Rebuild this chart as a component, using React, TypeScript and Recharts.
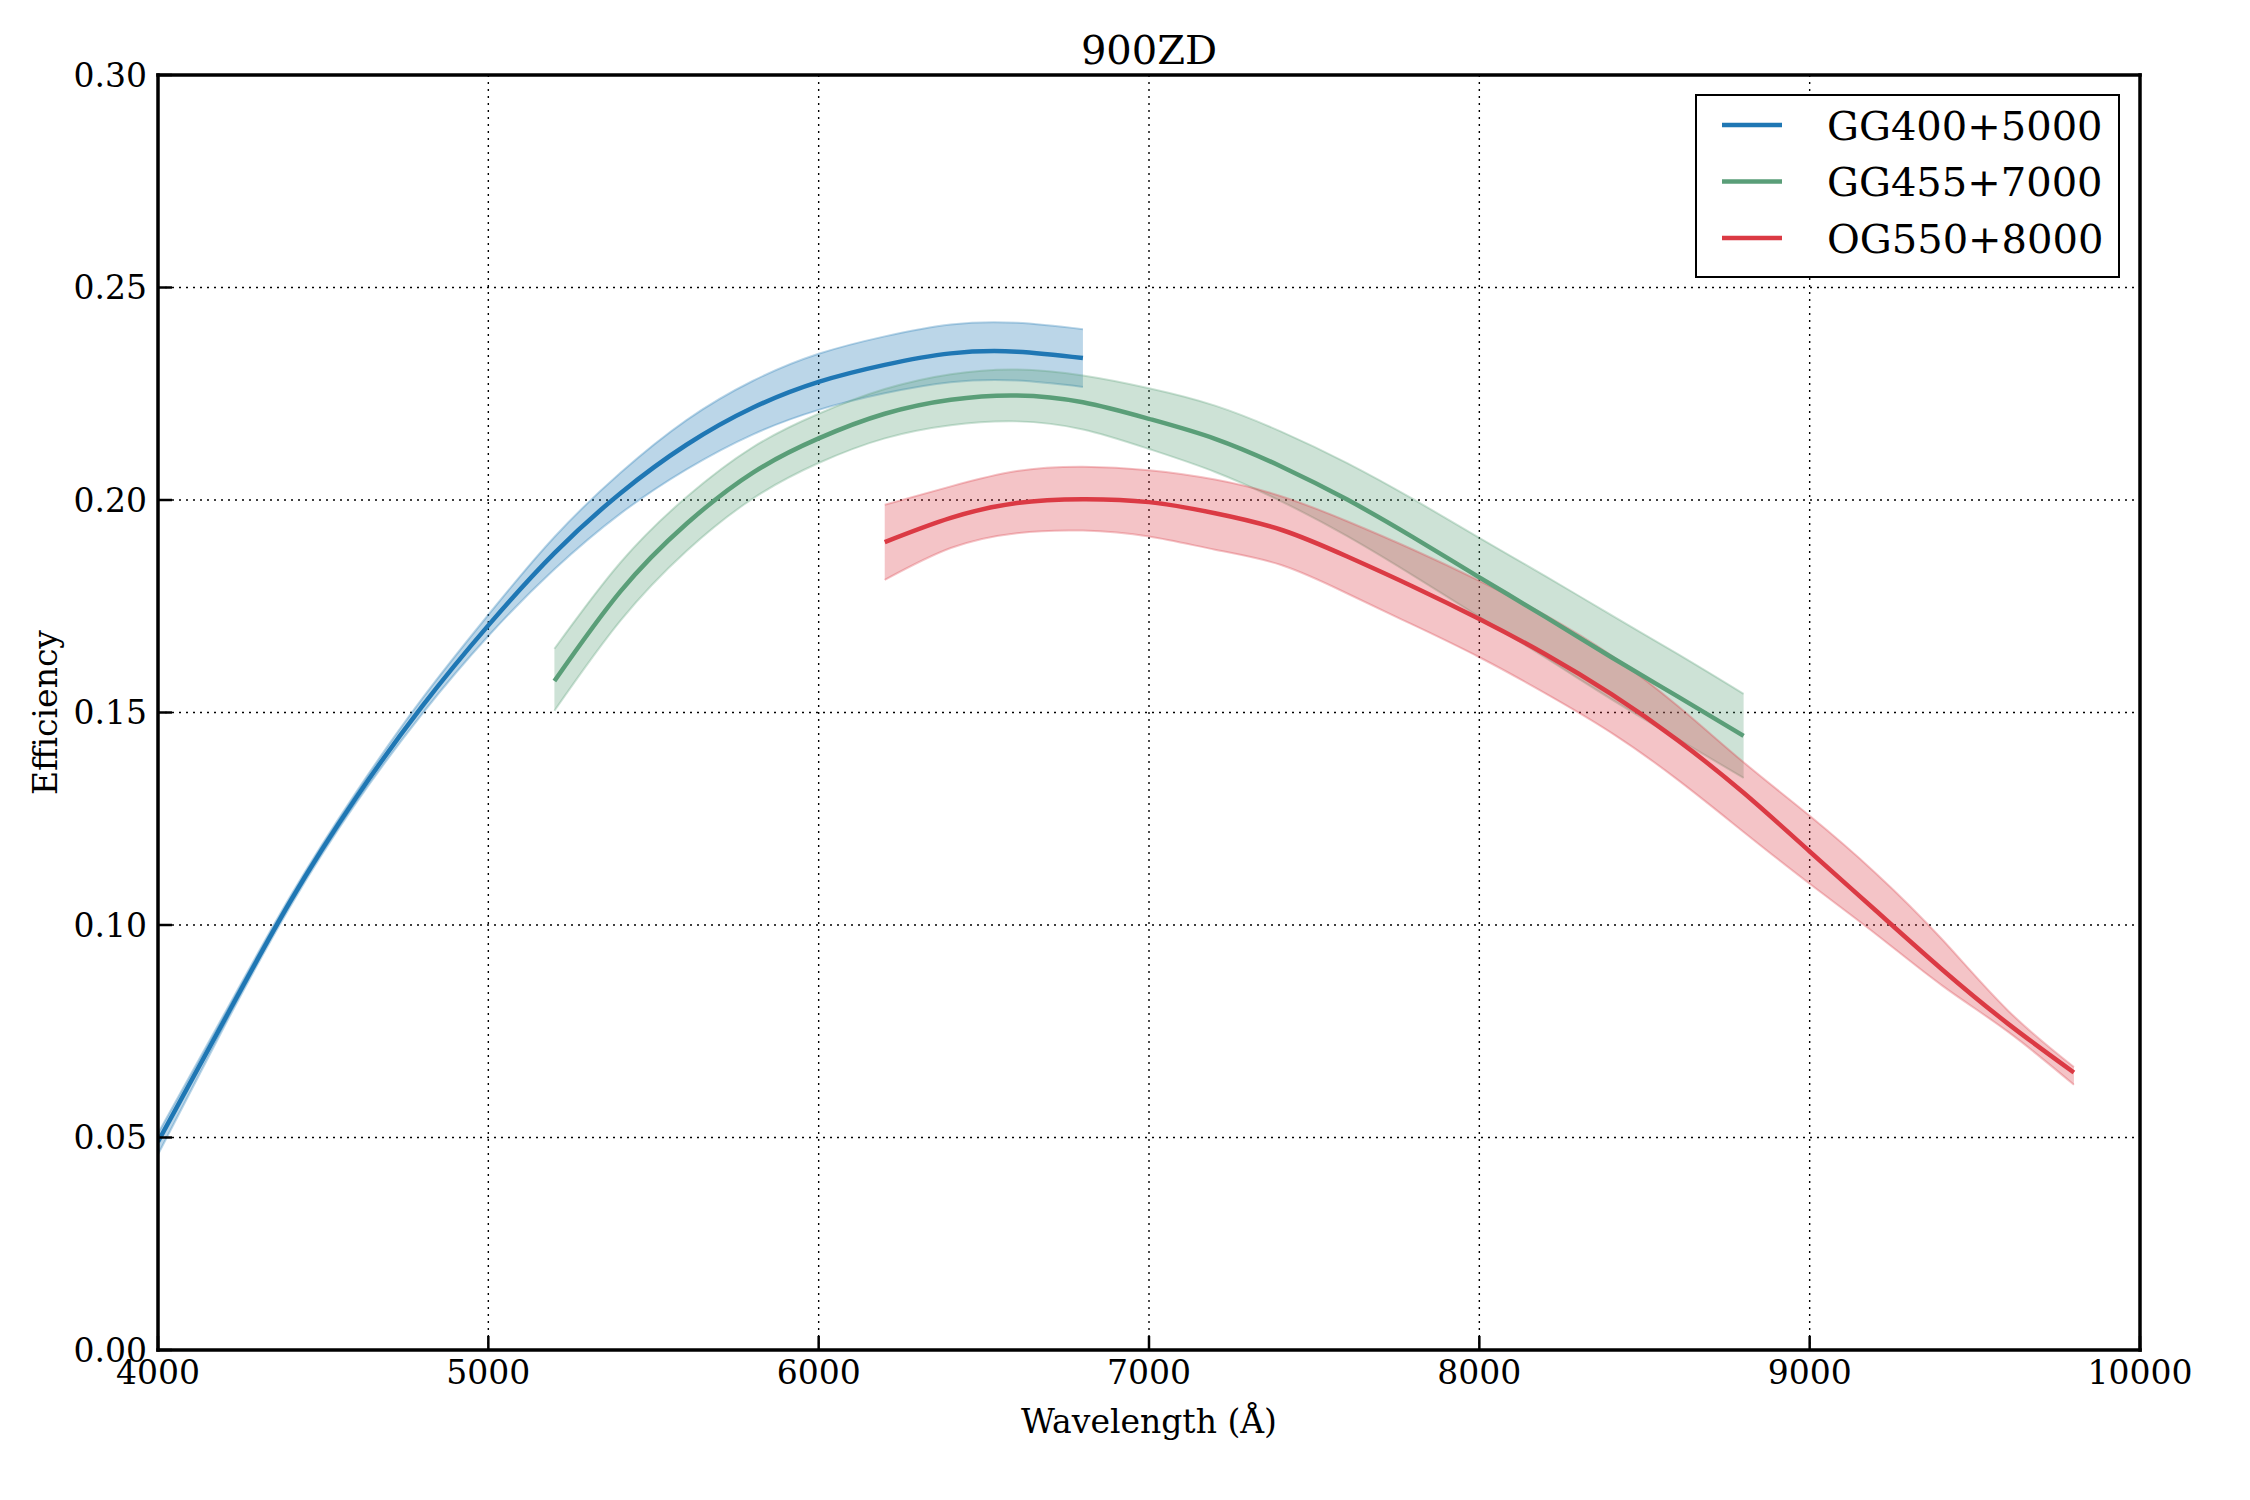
import React from 'react';
import {
  ComposedChart,
  Area,
  Line,
  XAxis,
  YAxis,
  CartesianGrid,
  Legend,
  Label,
} from 'recharts';

// wavelength grids (Angstrom)
const BLUE_WL = [4000, 4200, 4400, 4600, 4800, 5000, 5200, 5400, 5600, 5800, 6000, 6200, 6400, 6600, 6800];
const GREEN_WL = [5200, 5400, 5600, 5800, 6000, 6200, 6400, 6600, 6800, 7000, 7200, 7400, 7600, 7800, 8000, 8200, 8400, 8600, 8800];
const RED_WL = [6200, 6400, 6600, 6800, 7000, 7200, 7400, 7600, 7800, 8000, 8200, 8400, 8600, 8800, 9000, 9200, 9400, 9600, 9800];

// GG400+5000
const BLUE_MID = [0.049, 0.0775, 0.1055, 0.13, 0.1515, 0.1705, 0.1875, 0.2016, 0.213, 0.2217, 0.2278, 0.2318, 0.2345, 0.2349, 0.2334];
const BLUE_LO = [0.046, 0.076, 0.1043, 0.1287, 0.1497, 0.168, 0.1837, 0.1968, 0.2072, 0.2154, 0.2212, 0.2251, 0.2277, 0.2281, 0.2266];
const BLUE_HI = [0.051, 0.079, 0.1067, 0.1313, 0.1533, 0.173, 0.1913, 0.2064, 0.2188, 0.228, 0.2344, 0.2385, 0.2413, 0.2417, 0.2402];

// GG455+7000
const GREEN_MID = [0.1574, 0.1785, 0.1944, 0.2064, 0.2145, 0.2203, 0.2236, 0.2246, 0.223, 0.2191, 0.2144, 0.2079, 0.2001, 0.1912, 0.1818, 0.1725, 0.163, 0.1538, 0.1445];
const GREEN_LO = [0.1504, 0.1716, 0.188, 0.2003, 0.2087, 0.2145, 0.2176, 0.2185, 0.2166, 0.212, 0.2066, 0.1997, 0.1915, 0.1822, 0.1725, 0.1629, 0.1531, 0.1438, 0.1346];
const GREEN_HI = [0.165, 0.1853, 0.2007, 0.2124, 0.2203, 0.2261, 0.2296, 0.2307, 0.2293, 0.2263, 0.2222, 0.2161, 0.2087, 0.2002, 0.1911, 0.1821, 0.1729, 0.1638, 0.1544];

// OG550+8000
const RED_MID = [0.1901, 0.1958, 0.1993, 0.2002, 0.1995, 0.1969, 0.193, 0.1867, 0.1796, 0.172, 0.1637, 0.1543, 0.1435, 0.1311, 0.1173, 0.1034, 0.0896, 0.0768, 0.0653];
const RED_LO = [0.1812, 0.1887, 0.1922, 0.1928, 0.1914, 0.1883, 0.1847, 0.178, 0.1706, 0.163, 0.1545, 0.1452, 0.1342, 0.1219, 0.1097, 0.0979, 0.0858, 0.0749, 0.0624];
const RED_HI = [0.1989, 0.2032, 0.2068, 0.2078, 0.207, 0.2048, 0.2009, 0.195, 0.1883, 0.181, 0.1729, 0.1634, 0.1516, 0.1383, 0.1257, 0.1122, 0.0967, 0.0799, 0.0666];

const X_TICKS = [4000, 5000, 6000, 7000, 8000, 9000, 10000];
const Y_TICKS = [0, 0.05, 0.1, 0.15, 0.2, 0.25, 0.3];

const build = (wl: number[], mid: number[], lo: number[], hi: number[]) =>
  wl.map((w, i) => ({ wl: w, eff: mid[i], band: [lo[i], hi[i]] }));

const SERIES = [
  { name: 'GG400+5000', color: '#1f77b4', data: build(BLUE_WL, BLUE_MID, BLUE_LO, BLUE_HI) },
  { name: 'GG455+7000', color: '#5a9e78', data: build(GREEN_WL, GREEN_MID, GREEN_LO, GREEN_HI) },
  { name: 'OG550+8000', color: '#db3a44', data: build(RED_WL, RED_MID, RED_LO, RED_HI) },
];

const FONT = 'DejaVu Serif';
const tickStyle = { fontSize: 33, fill: '#000', fontFamily: FONT };
const spine = { stroke: '#000', strokeWidth: 3.5, strokeLinecap: 'square' as const };
const tickMark = { stroke: '#000', strokeWidth: 2.5 };

function LegendBox({ payload }: any) {
  // only the centre lines go in the legend, not the bands
  const items = (payload || []).filter((entry: any) => entry.dataKey === 'eff');
  return (
    <svg width={460} height={190} style={{ display: 'block', overflow: 'visible' }}>
      <rect x={1} y={1} width={423} height={182} fill="#fff" stroke="#000" strokeWidth={2} />
      {items.map((entry: any, i: number) => {
        const cy = 31 + i * 56.5;
        return (
          <g key={entry.value}>
            <line x1={27} x2={87} y1={cy} y2={cy} stroke={entry.color} strokeWidth={4.5} />
            <text x={132} y={cy + 14.5} fontSize={40} fontFamily={FONT} fill="#000">
              {entry.value}
            </text>
          </g>
        );
      })}
    </svg>
  );
}

export default function App() {
  return (
    <div style={{ position: 'absolute', left: 0, top: 0, width: 2250, height: 1500, background: '#fff' }}>
      <ComposedChart
        width={2250}
        height={1500}
        margin={{ top: 74, right: 109, bottom: 149, left: 157 }}
        style={{ fontFamily: FONT }}
      >
        <CartesianGrid stroke="#000" strokeWidth={1.4} strokeDasharray="2 5" />
        <XAxis
          dataKey="wl"
          type="number"
          domain={[4000, 10000]}
          ticks={X_TICKS}
          interval={0}
          allowDataOverflow
          height={1}
          tickSize={-14}
          tickMargin={25}
          tick={tickStyle}
          tickLine={tickMark}
          axisLine={spine}
        >
          <Label
            content={(p: any) => (
              <text x={p.viewBox.x + p.viewBox.width / 2} y={p.viewBox.y + 83} textAnchor="middle" fontSize={33} fontFamily={FONT} fill="#000">
                Wavelength (Å)
              </text>
            )}
          />
        </XAxis>
        <XAxis
          xAxisId="top"
          orientation="top"
          type="number"
          domain={[4000, 10000]}
          ticks={X_TICKS}
          interval={0}
          allowDataOverflow
          height={1}
          tickSize={-14}
          tick={false}
          tickLine={tickMark}
          axisLine={spine}
        >
          <Label
            content={(p: any) => (
              <text x={p.viewBox.x + p.viewBox.width / 2} y={p.viewBox.y + p.viewBox.height - 11} textAnchor="middle" fontSize={40} fontFamily={FONT} fill="#000">
                900ZD
              </text>
            )}
          />
        </XAxis>
        <YAxis
          type="number"
          domain={[0, 0.3]}
          ticks={Y_TICKS}
          interval={0}
          allowDataOverflow
          width={1}
          tickSize={-14}
          tickMargin={25}
          tick={tickStyle}
          tickFormatter={(v: number) => v.toFixed(2)}
          tickLine={tickMark}
          axisLine={spine}
        >
          <Label
            content={(p: any) => {
              const x = p.viewBox.x + p.viewBox.width - 101;
              const y = p.viewBox.y + p.viewBox.height / 2;
              return (
                <text x={x} y={y} transform={`rotate(-90, ${x}, ${y})`} textAnchor="middle" fontSize={33} fontFamily={FONT} fill="#000">
                  Efficiency
                </text>
              );
            }}
          />
        </YAxis>
        <YAxis
          yAxisId="right"
          orientation="right"
          type="number"
          domain={[0, 0.3]}
          ticks={Y_TICKS}
          interval={0}
          allowDataOverflow
          width={1}
          tickSize={-14}
          tick={false}
          tickLine={tickMark}
          axisLine={spine}
        />
        {SERIES.map((s) => (
          <Area
            key={`${s.name}-band`}
            data={s.data}
            dataKey="band"
            type="natural"
            fill={s.color}
            fillOpacity={0.3}
            stroke={s.color}
            strokeOpacity={0.3}
            strokeWidth={2}
            legendType="none"
            isAnimationActive={false}
          />
        ))}
        {SERIES.map((s) => (
          <Line
            key={s.name}
            data={s.data}
            dataKey="eff"
            name={s.name}
            type="natural"
            stroke={s.color}
            strokeWidth={4.5}
            dot={false}
            isAnimationActive={false}
          />
        ))}
        <Legend
          layout="vertical"
          align="center"
          verticalAlign="middle"
          content={<LegendBox />}
          wrapperStyle={{ left: 1695, top: 94, width: 460, height: 190, lineHeight: 0 }}
        />
      </ComposedChart>
    </div>
  );
}
